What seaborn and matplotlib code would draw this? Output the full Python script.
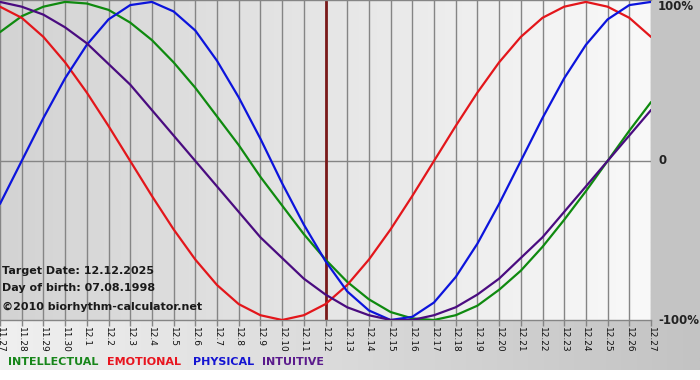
import numpy as np
import pandas as pd
import matplotlib
matplotlib.use("Agg")
from matplotlib import pyplot as plt
from matplotlib.colors import LinearSegmentedColormap
from matplotlib.patches import Rectangle
import seaborn as sns

DAYS = ["11.27", "11.28", "11.29", "11.30",
        "12.1", "12.2", "12.3", "12.4", "12.5", "12.6", "12.7", "12.8", "12.9",
        "12.10", "12.11", "12.12", "12.13", "12.14", "12.15", "12.16", "12.17",
        "12.18", "12.19", "12.20", "12.21", "12.22", "12.23", "12.24", "12.25",
        "12.26", "12.27"]
TARGET_DAY = "12.12"

INTELLECTUAL = [0.81, 0.91, 0.97, 1.00, 0.99, 0.95, 0.87, 0.76, 0.62, 0.46,
                0.28, 0.10, -0.10, -0.28, -0.46, -0.62, -0.76, -0.87, -0.95, -0.99,
                -1.00, -0.97, -0.91, -0.81, -0.69, -0.54, -0.37, -0.19, 0.00, 0.19,
                0.37]
EMOTIONAL = [0.97, 0.90, 0.78, 0.62, 0.43, 0.22, 0.00, -0.22, -0.43, -0.62,
             -0.78, -0.90, -0.97, -1.00, -0.97, -0.90, -0.78, -0.62, -0.43, -0.22,
             0.00, 0.22, 0.43, 0.62, 0.78, 0.90, 0.97, 1.00, 0.97, 0.90,
             0.78]
PHYSICAL = [-0.27, 0.00, 0.27, 0.52, 0.73, 0.89, 0.98, 1.00, 0.94, 0.82,
            0.63, 0.40, 0.14, -0.14, -0.40, -0.63, -0.82, -0.94, -1.00, -0.98,
            -0.89, -0.73, -0.52, -0.27, 0.00, 0.27, 0.52, 0.73, 0.89, 0.98,
            1.00]
INTUITIVE = [1.00, 0.97, 0.92, 0.84, 0.74, 0.61, 0.48, 0.32, 0.16, 0.00,
             -0.16, -0.32, -0.48, -0.61, -0.74, -0.84, -0.92, -0.97, -1.00, -1.00,
             -0.97, -0.92, -0.84, -0.74, -0.61, -0.48, -0.32, -0.16, 0.00, 0.16,
             0.32]

LINE_COLORS = {
    "INTELLECTUAL": "#0f8a0f",
    "EMOTIONAL": "#e3161b",
    "PHYSICAL": "#0c14dc",
    "INTUITIVE": "#4a0c80",
}
TEXT_COLORS = {
    "INTELLECTUAL": "#17861a",
    "EMOTIONAL": "#e8141e",
    "PHYSICAL": "#1414d2",
    "INTUITIVE": "#5a1a8c",
}


def build_frame():
    rows = []
    for name, values in [("INTELLECTUAL", INTELLECTUAL), ("EMOTIONAL", EMOTIONAL),
                         ("PHYSICAL", PHYSICAL), ("INTUITIVE", INTUITIVE)]:
        for i, v in enumerate(values):
            rows.append({"day": i, "value": v, "rhythm": name})
    return pd.DataFrame(rows)


def main():
    sns.set_theme(style="white")
    plt.rcParams["font.family"] = ["DejaVu Sans"]
    df = build_frame()

    W, H = 700, 380
    fig = plt.figure(figsize=(7, 3.8), dpi=100)
    fig.patch.set_facecolor("white")

    # background pieces (pixel coords)
    bg = fig.add_axes([0, 0, 1, 1], zorder=0)
    bg.set_xlim(0, W)
    bg.set_ylim(H, 0)
    bg.axis("off")
    band = LinearSegmentedColormap.from_list("band", ["#f0f0f0", "#c3c3c3"])
    bg.imshow(np.linspace(0, 1, 256)[None, :], cmap=band, aspect="auto",
              extent=(0, W, 370, 320), zorder=0)
    bg.add_patch(Rectangle((651, 0), W - 651, 320, color="#c4c4c4", zorder=1))

    ax = fig.add_axes([0, 60 / H, 651 / W, 320 / H], zorder=1)
    plot_bg = LinearSegmentedColormap.from_list("plot", ["#d3d3d3", "#f9f9f9"])
    ax.imshow(np.linspace(0, 1, 256)[None, :], cmap=plot_bg, aspect="auto",
              extent=(0, 1, 0, 1), transform=ax.transAxes, zorder=0)

    ax.set_xticks(range(len(DAYS)))
    ax.set_xticklabels(DAYS, rotation=-90, fontsize=6.5, color="#111111")
    ax.grid(axis="x", color="#858585", linewidth=1.0, zorder=1)
    ax.grid(axis="y", visible=False)
    ax.axhline(0, color="#858585", linewidth=1.0, zorder=1)
    ax.axvline(DAYS.index(TARGET_DAY), color="#7a1a1a", linewidth=2.0, zorder=2)

    sns.lineplot(data=df, x="day", y="value", hue="rhythm", palette=LINE_COLORS,
                 linewidth=1.6, legend=False, ax=ax, zorder=3,
                 solid_joinstyle="round", solid_capstyle="round")

    ax.set_xlim(0, len(DAYS) - 1)
    ax.set_ylim(-1.0, 1.012)
    ax.set_yticks([])
    ax.set_xlabel("")
    ax.set_ylabel("")
    ax.tick_params(axis="x", bottom=True, length=4, width=1, color="#858585", pad=1)
    for side in ["left", "right"]:
        ax.spines[side].set_visible(False)
    for side in ["top", "bottom"]:
        ax.spines[side].set_color("#858585")
        ax.spines[side].set_linewidth(1.0)

    # right side scale labels
    ax.text(1.011, 1.0, "100%", transform=ax.transAxes, ha="left", va="top",
            fontsize=8.5, fontweight="bold", color="#222222", clip_on=False)
    ax.text(1.011, 0.5, "0", transform=ax.transAxes, ha="left", va="center",
            fontsize=8.5, fontweight="bold", color="#222222", clip_on=False)
    ax.text(1.011, 0.0, "-100%", transform=ax.transAxes, ha="left", va="center",
            fontsize=8.5, fontweight="bold", color="#222222", clip_on=False)

    # info text
    info = ["Target Date: 12.12.2025", "Day of birth: 07.08.1998"]
    for y, txt in zip([271, 288], info):
        fig.text(2 / W, 1 - y / H, txt, ha="left", va="center", fontsize=8,
                 fontweight="bold", color="#1a1a1a", zorder=5)
    fig.text(2 / W, 1 - 307 / H, "\u00a92010 biorhythm-calculator.net", ha="left",
             va="center", fontsize=8, fontweight="bold", color="#1a1a1a", zorder=5)

    # legend words
    for x, name in zip([8, 107, 193, 262], ["INTELLECTUAL", "EMOTIONAL", "PHYSICAL", "INTUITIVE"]):
        fig.text(x / W, 1 - 362 / H, name, ha="left", va="center", fontsize=8,
                 fontweight="bold", color=TEXT_COLORS[name], zorder=5)

    fig.savefig("out.png", dpi=100)


if __name__ == "__main__":
    main()
